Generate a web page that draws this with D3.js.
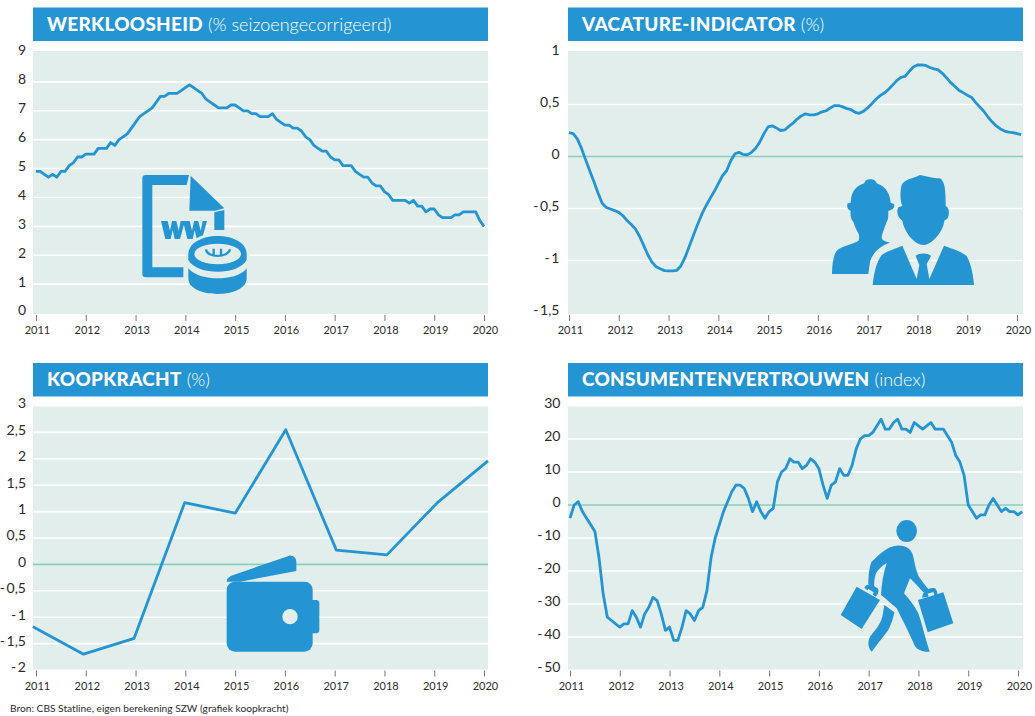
<!DOCTYPE html>
<html lang="nl">
<head>
<meta charset="utf-8">
<title>Arbeidsmarkt en koopkracht</title>
<script src="https://cdn.jsdelivr.net/npm/d3@7"></script>
<style>
    html, body { margin: 0; padding: 0; background: #fff; }
    svg { display: block; font-family: Lato, "Open Sans", sans-serif; }
    .tick text { fill: #2b2b2b; }
    .titel { font-size: 18.9px; font-weight: 900; fill: #fff; letter-spacing: 0.3px; }
    .sub { font-size: 18px; font-weight: 300; letter-spacing: 0; }
</style>
</head>
<body>
<svg id="grafiek" width="1035" height="716"></svg>
<script>
const jaren = [2011, 2012, 2013, 2014, 2015, 2016, 2017, 2018, 2019, 2020];

// maandcijfers vanaf januari 2011
const werkloosheid = [
    4.9, 4.9, 4.8, 4.7, 4.8, 4.7, 4.9, 4.9, 5.1, 5.2, 5.4, 5.4,
    5.5, 5.5, 5.5, 5.7, 5.7, 5.7, 5.9, 5.8, 6.0, 6.1, 6.2, 6.4,
    6.6, 6.8, 6.9, 7.0, 7.1, 7.3, 7.5, 7.5, 7.6, 7.6, 7.6, 7.7,
    7.8, 7.9, 7.8, 7.7, 7.6, 7.4, 7.3, 7.2, 7.1, 7.1, 7.1, 7.2,
    7.2, 7.1, 7.0, 7.0, 6.9, 6.9, 6.8, 6.8, 6.8, 6.9, 6.7, 6.6,
    6.5, 6.5, 6.4, 6.4, 6.3, 6.1, 6.0, 5.8, 5.7, 5.6, 5.6, 5.4,
    5.3, 5.3, 5.1, 5.1, 5.1, 4.9, 4.8, 4.7, 4.7, 4.5, 4.4, 4.4,
    4.2, 4.1, 3.9, 3.9, 3.9, 3.9, 3.8, 3.9, 3.7, 3.7, 3.5, 3.6,
    3.6, 3.4, 3.3, 3.3, 3.3, 3.4, 3.4, 3.5, 3.5, 3.5, 3.5, 3.2, 3.0
];

const vacature = [
    0.23, 0.22, 0.17, 0.08, -0.03, -0.136, -0.24, -0.35, -0.45, -0.49, -0.505, -0.52,
    -0.537, -0.57, -0.615, -0.654, -0.696, -0.767, -0.854, -0.945, -1.016, -1.06, -1.08, -1.097,
    -1.10, -1.10, -1.094, -1.05, -0.968, -0.864, -0.757, -0.654, -0.557, -0.476, -0.405, -0.337,
    -0.26, -0.185, -0.137, -0.04, 0.026, 0.04, 0.02, 0.016, 0.04, 0.08, 0.14, 0.22,
    0.285, 0.295, 0.275, 0.25, 0.255, 0.29, 0.32, 0.36, 0.39, 0.41, 0.40, 0.40,
    0.41, 0.43, 0.44, 0.467, 0.49, 0.49, 0.477, 0.46, 0.45, 0.425, 0.415, 0.435,
    0.467, 0.507, 0.55, 0.585, 0.61, 0.644, 0.686, 0.73, 0.76, 0.77, 0.817, 0.86,
    0.88, 0.88, 0.876, 0.856, 0.843, 0.833, 0.80, 0.758, 0.71, 0.676, 0.637, 0.614,
    0.59, 0.57, 0.52, 0.477, 0.435, 0.38, 0.333, 0.294, 0.265, 0.245, 0.235, 0.23, 0.22, 0.21
];

// jaarcijfers
const koopkracht = [-1.18, -1.7, -1.4, 1.17, 0.97, 2.55, 0.27, 0.18, 1.17, 1.96];

const vertrouwen = [
    -4, 0, 1, -2, -4, -6, -8, -16, -27, -34, -35, -36,
    -37, -36, -36, -32, -34, -37, -33, -31, -28, -29, -33, -38,
    -37, -41, -41, -37, -32, -33, -35, -32, -31, -26, -16, -10,
    -6, -2, 1, 4, 6, 6, 5, 2, -2, 1, -2, -4,
    -2, -1, 7, 10, 11, 14, 13, 13, 11, 12, 14, 13,
    11, 6, 2, 6, 7, 11, 9, 9, 12, 17, 20, 21,
    21, 22, 24, 26, 23, 23, 25, 26, 23, 23, 22, 25,
    24, 23, 24, 25, 23, 23, 23, 21, 19, 15, 13, 9,
    0, -2, -4, -3, -3, 0, 2, 0, -2, -1, -2, -2, -3, -2
];

const ticksWerkloosheid = [0, 1, 2, 3, 4, 5, 6, 7, 8, 9];
const ticksVacature = [-1.5, -1, -0.5, 0, 0.5, 1];
const ticksKoopkracht = [-2, -1.5, -1, -0.5, 0, 0.5, 1, 1.5, 2, 2.5, 3];
const ticksVertrouwen = [-50, -40, -30, -20, -10, 0, 10, 20, 30];

const blauw = "#2494d2";
const vlak = "#e2eeeb";
const nullijn = "#8ccfbd";

const svg = d3.select("#grafiek");
const kommaGetal = d => String(d).replace(".", ",").replace("-", "-\u2009");

function tekenPaneel(p) {
    const g = svg.append("g");

    g.append("rect").attr("x", p.links).attr("y", p.boven - 43.5).attr("width", 455).attr("height", 33.5).attr("fill", blauw);
    const titel = g.append("text").attr("class", "titel").attr("x", p.links + 14).attr("y", p.boven - 20.5);
    titel.append("tspan").text(p.titel);
    titel.append("tspan").attr("class", "sub").attr("dx", 5).text(p.sub);

    g.append("rect").attr("x", p.links).attr("y", p.boven).attr("width", 455).attr("height", 263).attr("fill", vlak);

    const x = d3.scaleLinear().domain([2011, 2020]).range(p.xBereik);
    const y = d3.scaleLinear().domain(p.yDomein).range(p.yBereik);

    const bin = p.yTicks.slice(1, -1);
    g.selectAll(".grid").data(bin).enter().append("line")
        .attr("x1", p.links).attr("x2", p.links + 455)
        .attr("y1", d => y(d)).attr("y2", d => y(d))
        .attr("stroke", d => (d === 0 ? nullijn : "#fff"))
        .attr("stroke-width", 1.6);

    const yAs = g.append("g")
        .attr("transform", `translate(${p.labelX}, 0)`)
        .call(d3.axisLeft(y).tickValues(p.yTicks).tickSize(0).tickFormat(kommaGetal));
    yAs.select(".domain").remove();
    yAs.selectAll("text").attr("font-size", 14).attr("font-family", "Lato").attr("dy", "0.14em");

    const xAs = g.append("g")
        .attr("transform", `translate(0, ${p.boven + 264})`)
        .call(d3.axisBottom(x).tickValues(jaren).tickSize(6).tickFormat(d3.format("d")));
    xAs.select(".domain").remove();
    xAs.selectAll("line").attr("stroke", "#555").attr("stroke-width", 0.8);
    xAs.selectAll("text").attr("font-size", 11).attr("font-family", "Lato").attr("y", 11.5).attr("dx", 1);

    let punten;
    if (p.jaarlijks) {
        const xPunt = d3.scalePoint().domain(jaren).range([p.links, p.links + 455]);
        punten = p.waarden.map((v, i) => [xPunt(jaren[i]), y(v)]);
    } else {
        punten = p.waarden.map((v, i) => [x(2011 + i / 12), y(v)]);
    }
    g.append("path")
        .attr("d", d3.line()(punten))
        .attr("fill", "none")
        .attr("stroke", blauw)
        .attr("stroke-width", 2.8)
        .attr("stroke-linejoin", "round");
}

tekenPaneel({
    titel: "WERKLOOSHEID", sub: "(% seizoengecorrigeerd)", links: 33, boven: 51, labelX: 29,
    xBereik: [36, 484], yDomein: [0, 9], yBereik: [313, 53], yTicks: ticksWerkloosheid, waarden: werkloosheid
});
tekenPaneel({
    titel: "VACATURE-INDICATOR", sub: "(%)", links: 568, boven: 51, labelX: 562.5,
    xBereik: [569, 1017], yDomein: [-1.5, 1], yBereik: [312.5, 52.5], yTicks: ticksVacature, waarden: vacature
});
tekenPaneel({
    titel: "KOOPKRACHT", sub: "(%)", links: 33, boven: 406.5, labelX: 29, jaarlijks: true,
    xBereik: [36, 484], yDomein: [-2, 3], yBereik: [670, 406], yTicks: ticksKoopkracht, waarden: koopkracht
});
tekenPaneel({
    titel: "CONSUMENTENVERTROUWEN", sub: "(index)", links: 568, boven: 406.5, labelX: 563.5,
    xBereik: [570, 1018], yDomein: [-50, 30], yBereik: [670, 406], yTicks: ticksVertrouwen, waarden: vertrouwen
});

svg.append("text").attr("x", 10).attr("y", 712).attr("font-size", 10.2).attr("fill", "#2b2b2b")
    .text("Bron: CBS Statline, eigen berekening SZW (grafiek koopkracht)");

// iconen, getekend op 3x schaal
function icoon(ox, oy) {
    return svg.append("g").attr("transform", `translate(${ox}, ${oy}) scale(${1 / 3})`).attr("fill", blauw);
}

const doc = icoon(135, 170);
doc.append("path").attr("d", "M32 15H162L155 45H52V292H145V322H32Q22 322 22 312V25Q22 15 32 15Z");
doc.append("path").attr("d", "M167 17L268 115L240 122H163Z");
doc.append("path").attr("d", "M238 127L268 120V180H238Z");
const dubbelW = "M78 153H98L105 182L111 153H124L131 182L137 153H150L135 207H119L113 180L107 207H91Z";
doc.append("path").attr("d", dubbelW);
doc.append("path").attr("d", dubbelW).attr("transform", "translate(66, 0)");
const muntBoven = "M160 252C160 220 200 198 248 198C296 198 335 220 335 252V270C320 295 285 305 248 305C210 305 175 295 160 270Z";
doc.append("path").attr("d", muntBoven).attr("stroke", vlak).attr("stroke-width", 16);
doc.append("path").attr("d", muntBoven);
doc.append("ellipse").attr("cx", 248).attr("cy", 252).attr("rx", 70).attr("ry", 31).attr("fill", vlak);
doc.append("path").attr("d", "M213 238C215 264 280 264 285 238M236 236V258M258 236V258")
    .attr("fill", "none").attr("stroke", blauw).attr("stroke-width", 7);
doc.append("path").attr("d", "M160 295C180 318 215 325 248 325C282 325 318 318 335 295V325C335 355 295 372 248 372C200 372 160 355 160 325Z");

const mensen = icoon(825, 170);
mensen.append("path").attr("d", "M21 312C22 280 25 250 40 238C55 228 85 222 100 213C104 205 103 197 100 190C92 175 88 165 85 155C78 150 75 135 77 122C68 120 64 108 68 100L77 98C78 75 85 50 118 40C120 32 125 28 135 28C147 28 152 32 155 40C185 50 195 75 197 98L207 102C210 112 205 120 190 122C190 135 190 150 185 155C180 170 172 190 170 200C170 208 175 213 195 218C165 228 145 245 135 275L130 312Z");
mensen.append("path").attr("d", "M232 108C225 95 225 60 230 45C238 28 265 25 285 15C305 18 320 25 345 25C360 35 362 60 362 108C372 112 375 130 368 145L358 152C355 185 320 225 295 225C265 222 238 185 232 152C220 145 212 125 220 112Z");
mensen.append("path").attr("d", "M143 345C146 310 155 275 170 255C185 243 215 235 232 227L275 327L283 285L272 258C280 248 310 248 318 258L305 282L313 327L357 227C380 235 410 245 425 258C440 285 445 320 447 345Z");

const koper = icoon(835, 515);
koper.append("ellipse").attr("cx", 215).attr("cy", 48).attr("rx", 31).attr("ry", 33);
koper.append("path").attr("d", "M100 207C100 180 103 155 110 140C130 120 160 92 185 92C210 90 230 100 235 125C240 150 245 175 255 190C265 205 275 215 282 225L265 232C250 215 235 200 225 190L207 235C225 255 240 275 250 295C262 330 272 375 284 410C265 412 245 405 238 390C228 365 205 320 185 280C165 262 145 245 138 240C140 205 145 175 155 145C140 152 125 170 122 178C118 190 117 205 118 218Z");
koper.append("path").attr("d", "M148 270L178 292C175 310 170 325 160 345C145 365 125 390 110 410C100 400 97 380 105 365C120 345 135 330 142 305Z");
koper.append("path").attr("d", "M65 215L135 255L80 342L17 300Z");
koper.append("path").attr("d", "M88 218C92 208 105 205 115 212L128 220C133 228 130 238 122 245Z");
koper.append("path").attr("d", "M100 222L116 232L111 240L95 230Z").attr("fill", vlak);
koper.append("path").attr("d", "M249 255L325 232L355 325L278 352Z");
koper.append("path").attr("d", "M262 248C262 225 285 215 300 220C308 228 307 236 307 240Z");
koper.append("path").attr("d", "M278 236L295 231L298 240L281 245Z").attr("fill", vlak);

const beurs = icoon(0, 520);
beurs.append("path").attr("d", "M680 185C680 175 690 168 700 165L868 107C880 105 889 115 889 125V153L720 185Z");
beurs.append("rect").attr("x", 680).attr("y", 185).attr("width", 258).attr("height", 210).attr("rx", 25);
beurs.append("rect").attr("x", 925).attr("y", 240).attr("width", 33).attr("height", 100).attr("rx", 10);
beurs.append("circle").attr("cx", 870).attr("cy", 290).attr("r", 23).attr("fill", vlak);
</script>
</body>
</html>
